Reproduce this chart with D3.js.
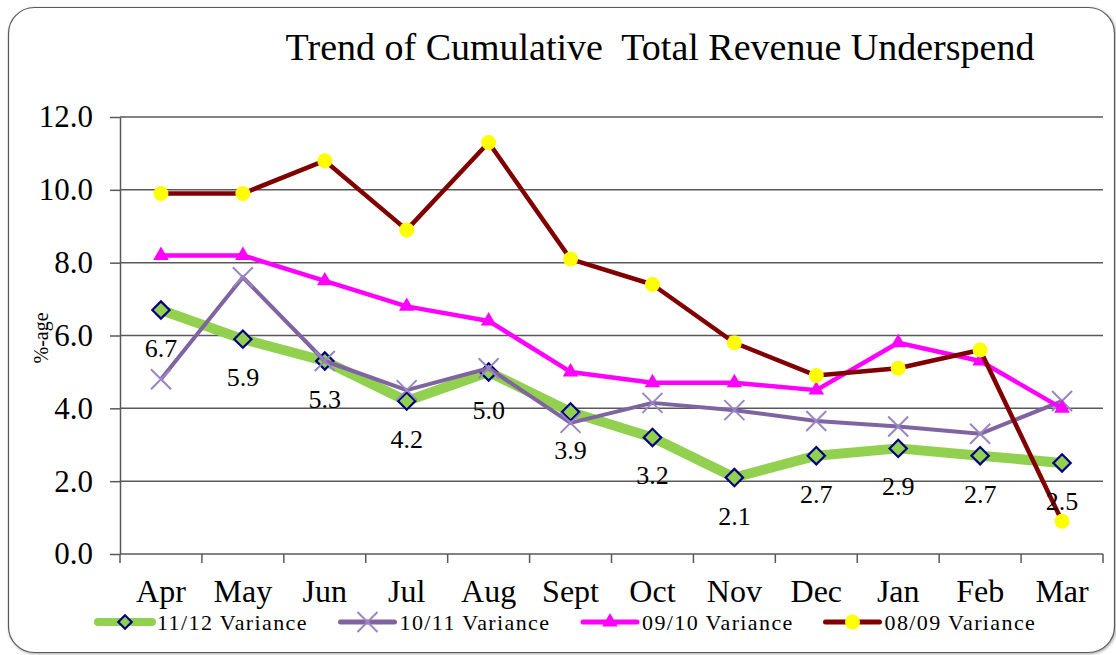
<!DOCTYPE html>
<html>
<head>
<meta charset="utf-8">
<script src="https://cdn.jsdelivr.net/npm/d3@7"></script>
<style>
  body { margin: 0; background: #fff; }
  text { font-family: "Liberation Serif", "Times New Roman", serif; fill: #000; }
</style>
</head>
<body>
<svg id="chart" width="1116" height="655"></svg>
<script>
// chart values
const months = ["Apr", "May", "Jun", "Jul", "Aug", "Sept", "Oct", "Nov", "Dec", "Jan", "Feb", "Mar"];
const var1112 = [6.7, 5.9, 5.3, 4.2, 5.0, 3.9, 3.2, 2.1, 2.7, 2.9, 2.7, 2.5];
const var1011 = [4.8, 7.6, 5.3, 4.5, 5.1, 3.6, 4.15, 3.95, 3.65, 3.5, 3.3, 4.2];
const var0910 = [8.2, 8.2, 7.5, 6.8, 6.4, 5.0, 4.7, 4.7, 4.5, 5.8, 5.3, 4.0];
const var0809 = [9.9, 9.9, 10.8, 8.9, 11.3, 8.1, 7.4, 5.8, 4.9, 5.1, 5.6, 0.9];
const seriesNames = ["11/12 Variance", "10/11 Variance", "09/10 Variance", "08/09 Variance"];
const yTicks = [0, 2, 4, 6, 8, 10, 12];

let svg = d3.select("#chart");

// outer box with soft shadow
let defs = svg.append("defs");
defs.append("filter").attr("id", "shadow")
    .attr("x", "-2%").attr("y", "-2%").attr("width", "104%").attr("height", "104%")
    .append("feDropShadow")
    .attr("dx", 1).attr("dy", 1).attr("stdDeviation", 1.5)
    .attr("flood-color", "#000").attr("flood-opacity", 0.35);

svg.append("rect")
    .attr("x", 8.5).attr("y", 7.5)
    .attr("width", 1106).attr("height", 645)
    .attr("rx", 26)
    .attr("fill", "#fff")
    .attr("stroke", "#5a5a5a")
    .attr("stroke-width", 1.2)
    .attr("filter", "url(#shadow)");

let plot = {left: 120, right: 1103, top: 117, bottom: 554};

let x = d3.scaleBand().domain(months).range([plot.left, plot.right]);
let y = d3.scaleLinear().domain([0, 12]).range([plot.bottom, plot.top]);
let cx = m => x(m) + x.bandwidth() / 2;

// title
svg.append("text")
    .attr("x", 660).attr("y", 60)
    .attr("text-anchor", "middle")
    .style("font-size", "38px")
    .style("white-space", "pre")
    .text("Trend of Cumulative  Total Revenue Underspend");

// gridlines
svg.append("g")
    .selectAll("line")
    .data(yTicks.slice(1))
    .enter()
    .append("line")
    .attr("x1", plot.left).attr("x2", plot.right)
    .attr("y1", d => y(d)).attr("y2", d => y(d))
    .attr("stroke", "#595959")
    .attr("stroke-width", 1.5);

// y axis
let yAxis = svg.append("g")
    .attr("transform", "translate(" + plot.left + ",0)")
    .call(d3.axisLeft(y).tickValues(yTicks).tickFormat(d3.format(".1f")).tickSize(10).tickSizeOuter(0).tickPadding(17));
yAxis.selectAll("path, line").attr("stroke", "#595959").attr("stroke-width", 1.5);
yAxis.selectAll("text").style("font-size", "31px").attr("fill", "#000");

svg.append("text")
    .attr("transform", "translate(48,338) rotate(-90)")
    .attr("text-anchor", "middle")
    .style("font-size", "20px")
    .text("%-age");

// x axis: baseline and ticks between categories
svg.append("line")
    .attr("x1", plot.left).attr("x2", plot.right)
    .attr("y1", y(0)).attr("y2", y(0))
    .attr("stroke", "#595959").attr("stroke-width", 1.5);

svg.append("g")
    .selectAll("line")
    .data(months.map(m => x(m)).concat([x.range()[1]]))
    .enter()
    .append("line")
    .attr("x1", d => d).attr("x2", d => d)
    .attr("y1", y(0)).attr("y2", y(0) + 9)
    .attr("stroke", "#595959").attr("stroke-width", 1.5);

svg.append("g")
    .selectAll("text")
    .data(months)
    .enter()
    .append("text")
    .attr("x", d => cx(d))
    .attr("y", 602)
    .attr("text-anchor", "middle")
    .style("font-size", "32px")
    .text(d => d);

// series
let series = [
    {name: seriesNames[0], values: var1112, color: "#92D050", width: 10, marker: "diamond"},
    {name: seriesNames[1], values: var1011, color: "#8064A2", width: 4, marker: "x"},
    {name: seriesNames[2], values: var0910, color: "#FF00FF", width: 4.5, marker: "triangle"},
    {name: seriesNames[3], values: var0809, color: "#800000", width: 4.5, marker: "circle"}
];

let line = d3.line()
    .x((d, i) => cx(months[i]))
    .y(d => y(d));

function drawMarker(g, type) {
    if (type == "diamond") {
        g.append("path")
            .attr("d", d3.symbol().type(d3.symbolSquare).size(150)())
            .attr("transform", "rotate(45)")
            .attr("fill", "#92D050")
            .attr("stroke", "#000080")
            .attr("stroke-width", 2.2);
    } else if (type == "x") {
        g.append("path")
            .attr("d", "M-10,-10L10,10M-10,10L10,-10")
            .attr("stroke", "#9A86C2")
            .attr("stroke-width", 2);
    } else if (type == "triangle") {
        g.append("path")
            .attr("d", d3.symbol().type(d3.symbolTriangle).size(105)())
            .attr("fill", "#FF00FF");
    } else {
        g.append("circle")
            .attr("r", 7.5)
            .attr("fill", "#FFFF00");
    }
}

series.forEach(s => {
    svg.append("path")
        .datum(s.values)
        .attr("d", line)
        .attr("fill", "none")
        .attr("stroke", s.color)
        .attr("stroke-width", s.width)
        .attr("stroke-linejoin", "round");

    svg.append("g")
        .selectAll("g")
        .data(s.values)
        .enter()
        .append("g")
        .attr("transform", (d, i) => "translate(" + cx(months[i]) + "," + y(d) + ")")
        .each(function() { drawMarker(d3.select(this), s.marker); });
});

// data labels for 11/12
svg.append("g")
    .selectAll("text")
    .data(var1112)
    .enter()
    .append("text")
    .attr("x", (d, i) => cx(months[i]))
    .attr("y", d => y(d) + 47)
    .attr("text-anchor", "middle")
    .style("font-size", "26px")
    .text(d => d3.format(".1f")(d));

// legend
let legend = svg.append("g")
    .selectAll("g")
    .data(series)
    .enter()
    .append("g")
    .attr("transform", (d, i) => "translate(" + (98 + i * 242.5) + ",622)");

legend.append("line")
    .attr("x1", 0).attr("x2", 54)
    .attr("stroke", d => d.color)
    .attr("stroke-width", d => d.marker == "diamond" ? 8 : 5)
    .attr("stroke-linecap", "round");

legend.append("g")
    .attr("transform", "translate(27,0)")
    .each(function(d) { drawMarker(d3.select(this), d.marker); });

legend.select("g").filter(d => d.marker == "diamond").select("path")
    .attr("d", d3.symbol().type(d3.symbolSquare).size(90)());

legend.append("text")
    .attr("x", 59).attr("y", 8)
    .style("font-size", "22px")
    .style("letter-spacing", "1.4px")
    .text(d => d.name);
</script>
</body>
</html>
